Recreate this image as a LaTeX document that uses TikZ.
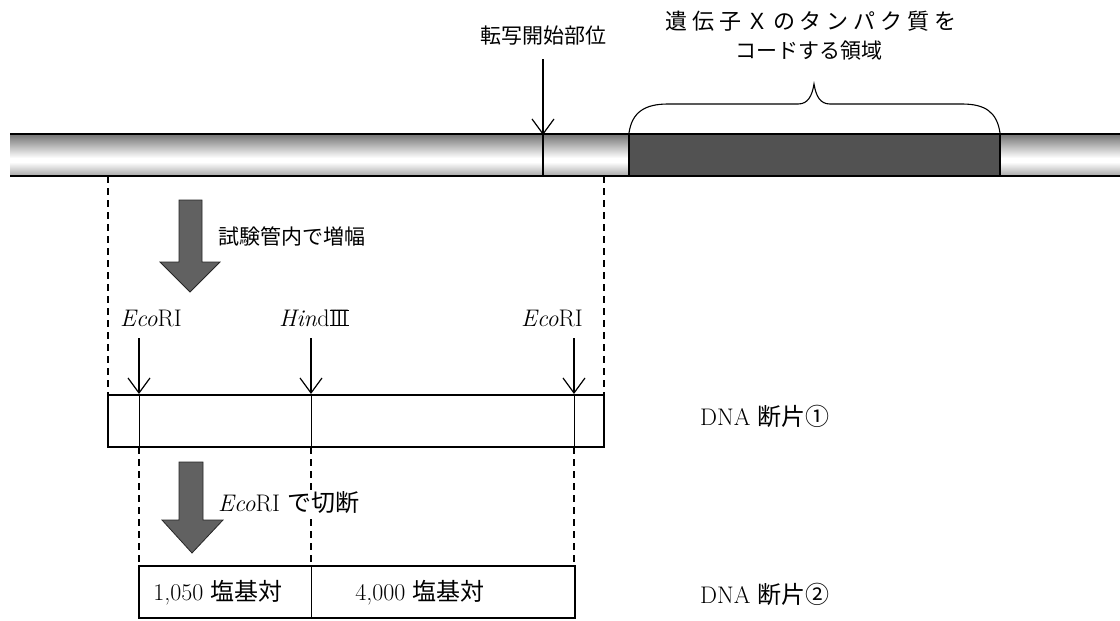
\documentclass[tikz,border=0pt]{standalone}
\usepackage{fontspec}
\newfontfamily\cjk{Noto Sans CJK JP}
\newfontfamily\cjkwide{Noto Sans CJK JP}[LetterSpace=22]
\newcommand\jp[1]{{\cjk #1}}
\newcommand\romthree{\setbox0\hbox{I\kern-2.2pt I\kern-2.2pt I}\rlap{\rule[0pt]{\wd0}{0.9pt}}\rlap{\rule[\dimexpr\ht0-0.9pt]{\wd0}{0.9pt}}\box0}
\usetikzlibrary{arrows.meta}
\tikzset{
  thinarrow/.style={line width=1.2pt, -{Straight Barb[length=15pt,width=22pt,line width=1.2pt]}},
  dashline/.style={line width=1.1pt, dash pattern=on 7pt off 5pt},
  bigarrow/.style={fill=black!62, draw=black!85, line width=0.8pt},
  edge/.style={line width=1.2pt},
  lbl/.style={inner sep=0pt, font=\fontsize{21}{25}\selectfont},
  lat/.style={inner sep=0pt, font=\fontsize{24}{28}\selectfont},
}
\begin{document}
\begin{tikzpicture}[x=1pt,y=-1pt]
\useasboundingbox (0,0) rectangle (1120,621);
% DNA bar, cylinder-like shading in thin bands
\foreach \i in {0,...,41}{
  \pgfmathsetmacro\yy{134+\i}
  \pgfmathsetmacro\pc{\i<24 ? 55*(1-\i/24) : (\i<28 ? 0 : 32*(\i-28)/13)}
  \fill[black!\pc] (10,\yy) rectangle (1120,\yy+1.05);
}
\fill[black!68] (629,133) rectangle (1000,177);
\draw[edge] (10,134) -- (1120,134);
\draw[edge] (10,176) -- (1120,176);
\draw[edge] (629,133) -- (629,177);
\draw[edge] (1000,133) -- (1000,177);
\draw[edge] (543,134) -- (543,176);
% transcription start
\node[lbl] (ts) at (543,36) {\jp{転写開始部位}};
\coordinate (tsA) at (543,59);
\coordinate (tsB) at (543,135);
\draw[thinarrow] (tsA) -- (tsB);
% brace
\draw[line width=1.1pt] (629,133) .. controls (632,112) and (645,104) .. (668,104) -- (798,104)
  .. controls (808,104) and (812,96) .. (814,84)
  .. controls (816,96) and (820,104) .. (830,104) -- (962,104)
  .. controls (985,104) and (997,112) .. (1000,133);
\node[lbl, font=\fontsize{22}{26}\selectfont] (cr1) at (811,21) {\cjkwide 遺伝子Ｘのタンパク質を};
\node[lbl] (cr2) at (809,51) {\jp{コードする領域}};
% dashed from bar to fragment 1
\coordinate (bL) at (108,176);
\coordinate (bR) at (604,176);
\coordinate (f1L) at (108,395);
\coordinate (f1R) at (604,395);
\draw[dashline] (bL) -- (f1L);
\draw[dashline] (bR) -- (f1R);
% big arrow 1
\draw[bigarrow] (179,200) -- (202,200) -- (202,262) -- (220,262) -- (190,292) -- (160,262) -- (179,262) -- cycle;
\node[lbl, anchor=west] (amp) at (218,236) {\jp{試験管内で増幅}};
% enzyme labels
\node[lat] (e1) at (151,318) {\textit{Eco}RI};
\node[lat] (h3) at (314,318) {\textit{Hin}d\romthree};
\node[lat] (e2) at (552,318) {\textit{Eco}RI};
\coordinate (a1) at (139,338); \coordinate (a1e) at (139,394);
\coordinate (a2) at (311,338); \coordinate (a2e) at (311,394);
\coordinate (a3) at (574,338); \coordinate (a3e) at (574,394);
\draw[thinarrow] (a1) -- (a1e);
\draw[thinarrow] (a2) -- (a2e);
\draw[thinarrow] (a3) -- (a3e);
% fragment 1
\draw[edge] (108,395) rectangle (604,447);
\draw[line width=1pt] (139,395) -- (139,447);
\draw[line width=1pt] (311,395) -- (311,447);
\draw[line width=1pt] (574,395) -- (574,447);
\node[lat, anchor=west] (d1) at (700,416) {DNA \jp{断片①}};
% dashed to fragment 2
\draw[dashline] (139,447) -- (139,566);
\draw[dashline] (311,447) -- (311,566);
\draw[dashline] (574,447) -- (574,566);
% big arrow 2
\draw[bigarrow] (179,462) -- (203,462) -- (203,520) -- (223,520) -- (192,553) -- (162,520) -- (179,520) -- cycle;
\node[lat, anchor=west, fill=white, inner ysep=2pt] (cut) at (218,503) {\textit{Eco}RI \jp{で切断}};
% fragment 2
\draw[edge] (139,566) rectangle (575,618);
\draw[line width=1pt] (311,566) -- (311,618);
\node[lat] (s1) at (218,593) {1,050 \jp{塩基対}};
\node[lat] (s2) at (420,593) {4,000 \jp{塩基対}};
\node[lat, anchor=west] (d2) at (700,594) {DNA \jp{断片②}};
\end{tikzpicture}
\end{document}
